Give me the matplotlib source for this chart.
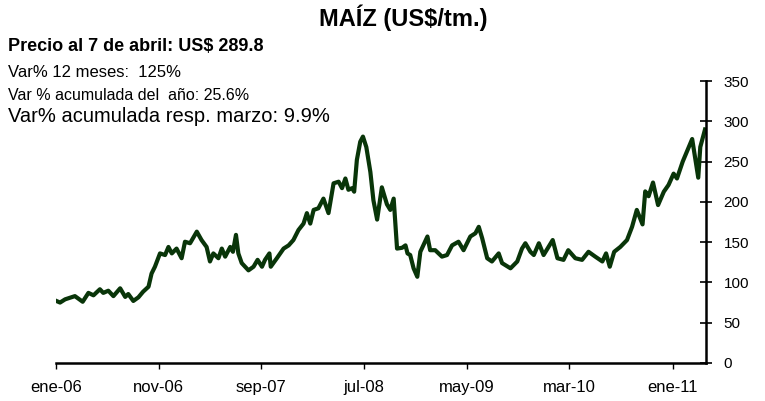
# ---------------------------
# Precio del maíz (US$/tm.)
# ---------------------------
import pandas as pd
import matplotlib.pyplot as plt

# ---------------------------
# Data
# ---------------------------
dates = [
    "2006-01-02", "2006-01-13", "2006-01-28", "2006-02-11", "2006-02-26", "2006-03-08",
    "2006-03-21", "2006-04-07", "2006-04-22", "2006-05-11", "2006-05-21", "2006-06-05",
    "2006-06-20", "2006-07-10", "2006-07-25", "2006-08-03", "2006-08-18", "2006-09-02",
    "2006-09-16", "2006-10-02", "2006-10-11", "2006-10-21", "2006-11-05", "2006-11-20",
    "2006-11-30", "2006-12-10", "2006-12-24", "2007-01-08", "2007-01-18", "2007-02-02",
    "2007-02-22", "2007-03-08", "2007-03-23", "2007-04-02", "2007-04-12", "2007-04-27",
    "2007-05-07", "2007-05-17", "2007-06-01", "2007-06-09", "2007-06-18", "2007-06-25",
    "2007-07-05", "2007-07-25", "2007-08-09", "2007-08-21", "2007-09-03", "2007-09-12",
    "2007-09-25", "2007-09-29", "2007-10-17", "2007-11-06", "2007-11-21", "2007-12-05",
    "2007-12-15", "2007-12-20", "2008-01-04", "2008-01-14", "2008-01-24", "2008-02-03",
    "2008-02-17", "2008-03-03", "2008-03-18", "2008-04-02", "2008-04-17", "2008-04-27",
    "2008-05-07", "2008-05-16", "2008-05-27", "2008-06-02", "2008-06-10", "2008-06-20",
    "2008-06-28", "2008-07-08", "2008-07-15", "2008-07-20", "2008-07-29", "2008-08-09",
    "2008-08-23", "2008-09-07", "2008-09-17", "2008-09-27", "2008-10-07", "2008-10-22",
    "2008-11-01", "2008-11-07", "2008-11-15", "2008-11-25", "2008-12-06", "2008-12-15",
    "2009-01-05", "2009-01-13", "2009-01-28", "2009-02-17", "2009-03-04", "2009-03-19",
    "2009-04-07", "2009-04-22", "2009-05-12", "2009-05-27", "2009-06-06", "2009-06-16",
    "2009-07-01", "2009-07-15", "2009-08-04", "2009-08-14", "2009-09-08", "2009-09-28",
    "2009-10-12", "2009-10-22", "2009-11-06", "2009-11-16", "2009-12-01", "2009-12-15",
    "2010-01-11", "2010-01-25", "2010-02-12", "2010-02-26", "2010-03-19", "2010-04-08",
    "2010-04-27", "2010-05-17", "2010-06-07", "2010-06-18", "2010-06-29", "2010-07-12",
    "2010-07-30", "2010-08-19", "2010-09-03", "2010-09-17", "2010-10-04", "2010-10-12",
    "2010-10-22", "2010-11-04", "2010-11-19", "2010-12-06", "2010-12-20", "2011-01-04",
    "2011-01-14", "2011-01-31", "2011-02-14", "2011-02-28", "2011-03-09", "2011-03-18",
    "2011-03-24", "2011-04-04", "2011-04-07",
]
precio = [
    77, 75, 79, 81, 83, 80,
    76, 87, 84, 91.5, 87, 89.7,
    83, 92.7, 82, 85.6, 77, 81.5,
    88.5, 94.7, 111, 119.5, 136, 134,
    144, 136, 142, 130, 150.5, 148.6,
    163, 152.6, 144, 126, 136, 130,
    142, 132, 144, 138, 159, 136,
    124, 115, 119.5, 128, 119.5, 128,
    136, 119.5, 130, 142, 146, 152.6,
    161, 165, 173, 186, 173, 190,
    192, 204, 186, 223, 225, 217,
    229, 215, 217, 212.6, 252, 274.6,
    281, 268, 250, 237, 202, 178,
    218, 197, 190, 204, 142, 143,
    146, 136, 134, 117.5, 107, 138,
    157, 140, 140, 132, 134, 146,
    150.5, 140, 157, 161, 169, 155,
    130, 126, 136, 124, 117.5, 126,
    142, 148.6, 138, 134, 148.6, 134,
    152.6, 130, 128, 140, 130, 128,
    138, 132, 126, 136, 119.5, 138,
    144, 152.6, 169, 190, 172, 213,
    207, 224, 196, 212.6, 221, 235,
    229, 250, 264, 278, 254, 230,
    268, 285, 289.8,
]

tick_dates = ["2006-01-01", "2006-11-01", "2007-09-01", "2008-07-01",
              "2009-05-01", "2010-03-01", "2011-01-01"]
tick_labels = ["ene-06", "nov-06", "sep-07", "jul-08", "may-09", "mar-10", "ene-11"]

titulo = "MAÍZ (US$/tm.)"
nota_precio = "Precio al 7 de abril: US$ 289.8"
nota_12m = "Var% 12 meses:  125%"
nota_anio = "Var % acumulada del  año: 25.6%"
nota_marzo = "Var% acumulada resp. marzo: 9.9%"

# ---------------------------
# Chart
# ---------------------------
plt.rcParams["font.family"] = ["Liberation Sans", "DejaVu Sans"]

fig = plt.figure(figsize=(7.65, 4.01), dpi=100)
ax = fig.add_axes([0.0732, 0.0948, 0.8497, 0.7032])

x = pd.to_datetime(dates)
ax.plot(x, precio, color="#093509", linewidth=3.0, solid_joinstyle="round")

ax.set_ylim(0, 350)
ax.set_yticks(range(0, 351, 50))
ax.set_xlim(pd.Timestamp("2006-01-01"), pd.Timestamp("2011-04-10"))
ax.set_xticks(pd.to_datetime(tick_dates))
ax.set_xticklabels(tick_labels)

for s in ("top", "left"):
    ax.spines[s].set_visible(False)
for s in ("bottom", "right"):
    ax.spines[s].set_linewidth(1.8)
    ax.spines[s].set_color("black")

ax.yaxis.tick_right()
ax.tick_params(axis="y", direction="inout", length=9, width=1.2, labelsize=11, pad=8)
ax.tick_params(axis="x", direction="out", length=4, width=1, labelsize=12, pad=8)

# ---------------------------
# Texts
# ---------------------------
fig.text(0.527, 0.955, titulo, ha="center", va="center", fontsize=17, fontweight="bold")
fig.text(0.011, 0.883, nota_precio, ha="left", va="center", fontsize=13, fontweight="bold")
fig.text(0.011, 0.820, nota_12m, ha="left", va="center", fontsize=12)
fig.text(0.011, 0.763, nota_anio, ha="left", va="center", fontsize=11.5)
fig.text(0.011, 0.710, nota_marzo, ha="left", va="center", fontsize=14.5)

fig.savefig("out.png", dpi=100)
